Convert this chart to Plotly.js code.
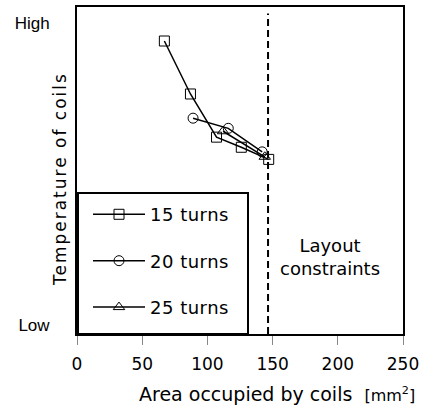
<!DOCTYPE html>
<html>
<head>
<meta charset="utf-8">
<script src="https://cdn.plot.ly/plotly-3.0.1.min.js"></script>
<style>html,body{margin:0;padding:0;background:#fff;}#chart{width:427px;height:408px;}</style>
</head>
<body>
<div id="chart"></div>
<script>
// Data (temperature in relative units 0-100)
const area15 = [67, 87, 107, 126, 147];
const temp15 = [89.6, 73.4, 60.2, 57.1, 53.4];
const area20 = [89, 116, 142];
const temp20 = [66.0, 62.9, 55.7];
const area25 = [112, 144];
const temp25 = [62.0, 54.2];
const seriesNames = ['15 turns', '20 turns', '25 turns'];
const constraintArea = 146.5;
const constraintSpan = [0, 98];
const xTickVals = [0, 50, 100, 150, 200, 250];
const yTickVals = [2.75, 95.1];
const yTickText = ['Low', 'High'];

const FONT = 'DejaVu Sans, sans-serif';
const mkLine = () => ({color: '#000', width: 1.5, dash: 'solid'});
const mk = (sym) => ({symbol: sym, size: 10, color: '#000', line: {color: '#000', width: 1}});

const traces = [
  {x: area15, y: temp15, name: seriesNames[0], mode: 'lines+markers', line: mkLine(), marker: mk('square-open'), legendgroup: 'a'},
  {x: area20, y: temp20, name: seriesNames[1], mode: 'lines+markers', line: mkLine(), marker: mk('circle-open'), legendgroup: 'b'},
  {x: area25, y: temp25, name: seriesNames[2], mode: 'lines+markers', line: mkLine(), marker: mk('triangle-up-open'), legendgroup: 'c'},
  {x: [constraintArea, constraintArea], y: constraintSpan, mode: 'lines', showlegend: false, hoverinfo: 'skip',
   line: {color: '#000', width: 2, dash: '7px,4px'}}
];

const layout = {
  width: 427, height: 408,
  margin: {l: 77, r: 24, t: 7, b: 74},
  paper_bgcolor: '#fff', plot_bgcolor: '#fff',
  font: {family: FONT, size: 16, color: '#000'},
  showlegend: true,
  legend: {
    x: 0, y: 0.434, xanchor: 'left', yanchor: 'top',
    bordercolor: '#000', borderwidth: 2, bgcolor: '#fff',
    font: {family: FONT, size: 18, color: '#000'},
    traceorder: 'grouped', tracegroupgap: 20, itemwidth: 52
  },
  xaxis: {
    range: [0, 250], tickvals: xTickVals, ticks: 'outside', ticklen: 9, tickcolor: '#888', tickwidth: 1,
    ticklabelstandoff: 5,
    showgrid: false, zeroline: false, showline: true, linecolor: '#000', linewidth: 2, mirror: true,
    tickfont: {family: FONT, size: 17, color: '#000'}
  },
  yaxis: {
    range: [0, 100], tickvals: yTickVals, ticktext: yTickText, ticks: '', ticklabelstandoff: 22,
    showgrid: false, zeroline: false, showline: true, linecolor: '#000', linewidth: 2, mirror: true,
    tickfont: {family: 'Liberation Sans, Arial, sans-serif', size: 17, color: '#000'}
  },
  annotations: [
    {text: 'Layout<br>constraints', x: 0.775, y: 0.235, xref: 'paper', yref: 'paper', showarrow: false,
     xanchor: 'center', yanchor: 'middle',
     font: {family: FONT, size: 18, color: '#000'}, align: 'center'},
    {text: 'Area occupied by coils&nbsp; <span style="font-size:16px">[mm<sup>2</sup>]</span>', x: 0.184, y: -0.183,
     xref: 'paper', yref: 'paper', xanchor: 'left', yanchor: 'middle', showarrow: false,
     font: {family: FONT, size: 19, color: '#000'}},
    {text: 'Temperature of coils', x: -0.052, y: 0.474, xref: 'paper', yref: 'paper', textangle: -90,
     xanchor: 'center', yanchor: 'middle', showarrow: false, font: {family: FONT, size: 17, color: '#000'}}
  ]
};

Plotly.newPlot('chart', traces, layout, {displayModeBar: false, staticPlot: true}).then(() => {
  document.querySelectorAll('.annotation-text').forEach(t => {
    if (t.textContent === 'Temperature of coils') t.style.letterSpacing = '2px';
  });
  // legend box sizing to match the reference frame
  const leg = document.querySelector('.legend');
  if (leg) {
    leg.querySelectorAll('.legendtext').forEach(t => { t.style.letterSpacing = '0.5px'; });
    const sb = leg.querySelector('.scrollbox');
    if (sb) sb.setAttribute('transform', (sb.getAttribute('transform') || '') + ' translate(9,2)');
    const bg = leg.querySelector('rect.bg');
    if (bg) {
      const r = bg.getBoundingClientRect();
      const bottom = 333; // axis line (page px)
      bg.setAttribute('width', 170);
      bg.setAttribute('height', Math.max(10, +bg.getAttribute('height') + (bottom - r.bottom) + 1));
    }
  }
});
</script>
</body>
</html>
